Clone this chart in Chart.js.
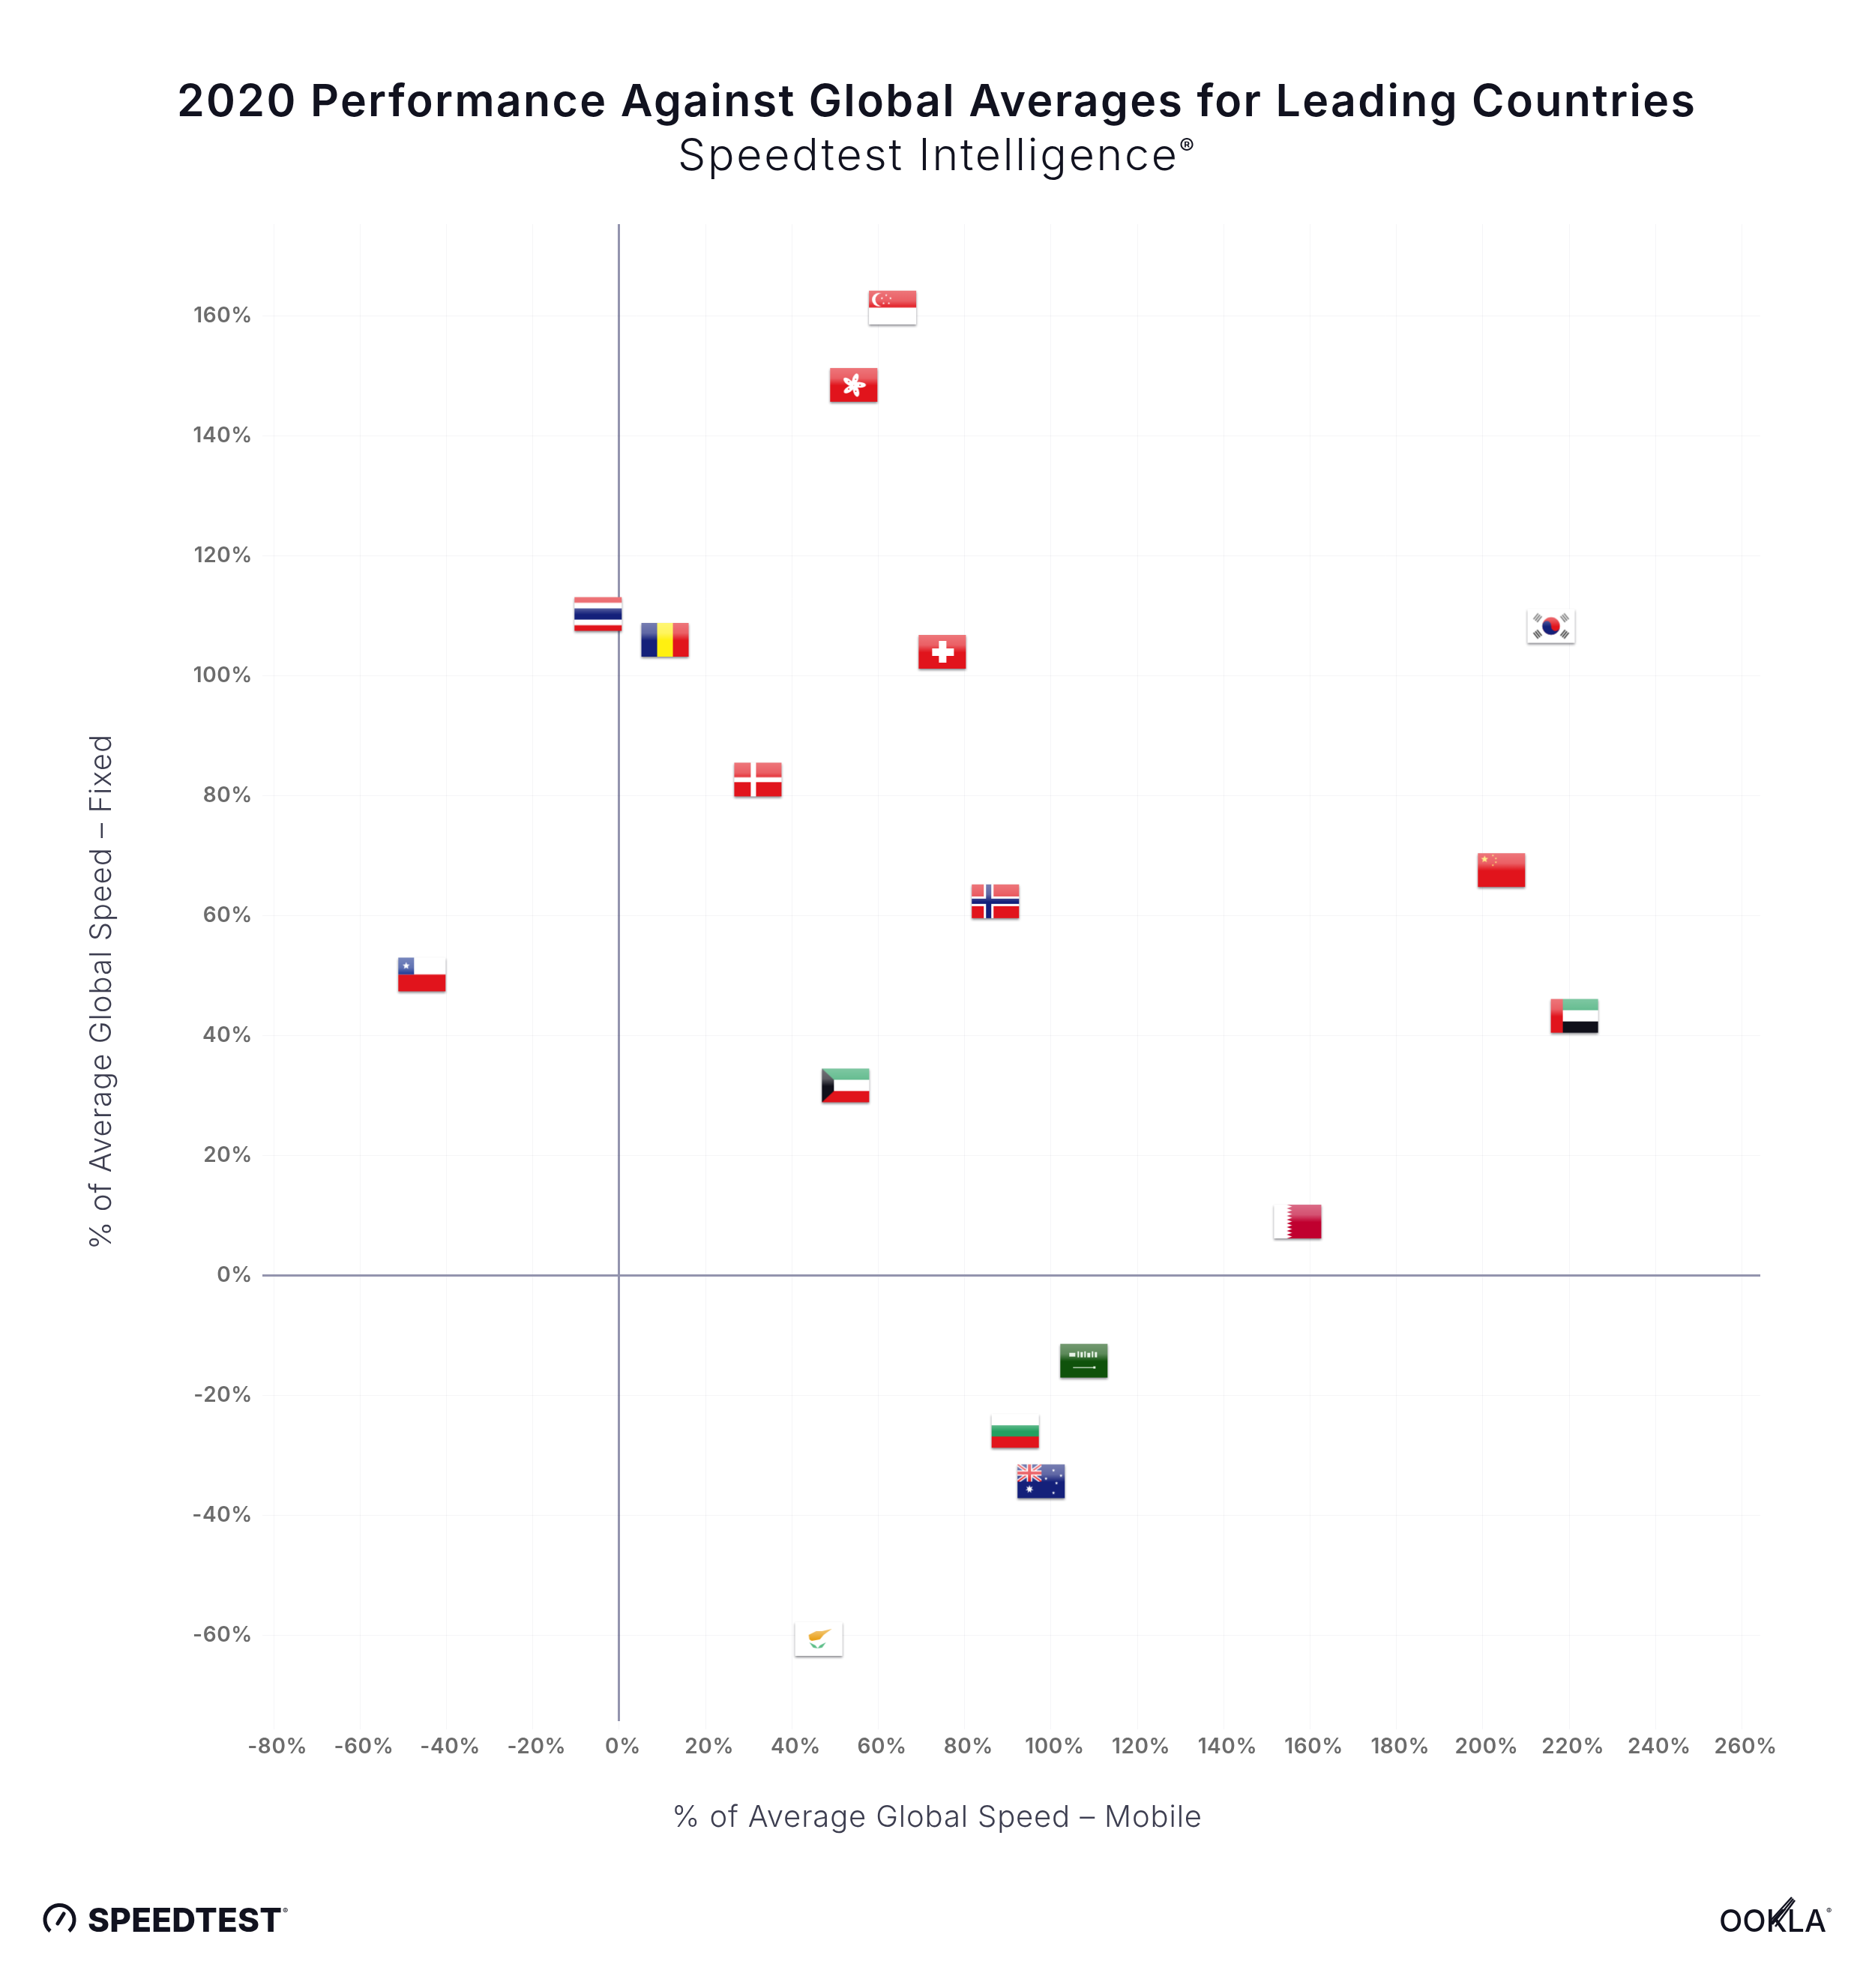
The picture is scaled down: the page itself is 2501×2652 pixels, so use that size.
<!DOCTYPE html>
<html>
<head>
<meta charset="utf-8">
<title>2020 Performance Against Global Averages</title>
<script src="https://cdn.jsdelivr.net/npm/chart.js@4"></script>
<style>
  html, body { margin: 0; padding: 0; background: #fff; }
  canvas { display: block; }
</style>
</head>
<body>
<canvas id="chart" width="2501" height="2652"></canvas>
<script>
// values
const countries = ["Singapore", "Hong Kong", "Thailand", "Romania", "Switzerland", "South Korea", "Denmark", "China", "Norway", "Chile", "UAE", "Kuwait", "Qatar", "Saudi Arabia", "Bulgaria", "Australia", "Cyprus"];
const mobileSpeed = [63.3, 54.3, -4.9, 10.6, 74.8, 215.8, 32.1, 204.3, 87.1, -45.7, 221.2, 52.4, 157.1, 107.6, 91.7, 97.7, 46.2];
const fixedSpeed = [161.4, 148.5, 110.3, 106.0, 104.0, 108.3, 82.7, 67.6, 62.4, 50.2, 43.3, 31.7, 9.0, -14.2, -25.9, -34.3, -60.6];
const xTicks = [-80, -60, -40, -20, 0, 20, 40, 60, 80, 100, 120, 140, 160, 180, 200, 220, 240, 260];
const yTicks = [-60, -40, -20, 0, 20, 40, 60, 80, 100, 120, 140, 160];

const titleText = "2020 Performance Against Global Averages for Leading Countries";
const subtitleText = "Speedtest Intelligence";
const xAxisTitle = "% of Average Global Speed – Mobile";
const yAxisTitle = "% of Average Global Speed – Fixed";

const FONT = "Inter, 'Noto Sans', sans-serif";
const RED = "#e1141c", NAVY = "#14207a", GREEN = "#22a060", BLACK = "#10101a";

// flag artwork, all drawn on a 63x45 box
const FW = 63, FH = 45, PAD = 5;

function bands(c, colors) {
  const h = FH / colors.length;
  colors.forEach((col, i) => { c.fillStyle = col; c.fillRect(0, i * h, FW, h + 0.5); });
}
function star(c, x, y, r, col, n) {
  n = n || 5;
  c.fillStyle = col;
  c.beginPath();
  for (let i = 0; i < n * 2; i++) {
    const a = -Math.PI / 2 + i * Math.PI / n;
    const rr = i % 2 ? r * 0.45 : r;
    c.lineTo(x + Math.cos(a) * rr, y + Math.sin(a) * rr);
  }
  c.closePath();
  c.fill();
}
function rect(c, col, x, y, w, h) { c.fillStyle = col; c.fillRect(x, y, w, h); }

const flagArt = {
  "Singapore": c => {
    bands(c, [RED, "#fff"]);
    c.fillStyle = "#fff";
    c.beginPath(); c.arc(13, 12, 9, 0, 7); c.fill();
    c.fillStyle = RED;
    c.beginPath(); c.arc(17, 12, 8.5, 0, 7); c.fill();
    for (let i = 0; i < 5; i++) {
      const a = -Math.PI / 2 + i * Math.PI * 2 / 5;
      star(c, 23 + Math.cos(a) * 6, 12 + Math.sin(a) * 6, 1.7, "#fff");
    }
  },
  "Hong Kong": c => {
    bands(c, [RED]);
    for (let i = 0; i < 5; i++) {
      c.save();
      c.translate(31.5, 23);
      c.rotate(i * Math.PI * 2 / 5);
      c.fillStyle = "#fff";
      c.beginPath();
      c.ellipse(2, -8, 3.8, 8, 0.35, 0, 7);
      c.fill();
      c.fillStyle = RED;
      c.beginPath();
      c.arc(2.5, -8, 0.9, 0, 7);
      c.fill();
      c.restore();
    }
  },
  "Thailand": c => {
    rect(c, RED, 0, 0, FW, FH);
    rect(c, "#fff", 0, 7.5, FW, 30);
    rect(c, NAVY, 0, 15, FW, 15);
  },
  "Romania": c => {
    rect(c, NAVY, 0, 0, 21, FH);
    rect(c, "#fff010", 21, 0, 21, FH);
    rect(c, RED, 42, 0, 21, FH);
  },
  "Switzerland": c => {
    bands(c, [RED]);
    rect(c, "#fff", 27, 8, 10, 29);
    rect(c, "#fff", 18, 18, 29, 10);
  },
  "South Korea": c => {
    bands(c, ["#fff"]);
    c.save();
    c.translate(31.5, 22.5);
    c.fillStyle = RED;
    c.beginPath(); c.arc(0, 0, 11.7, 0, 7); c.fill();
    c.fillStyle = NAVY;
    c.beginPath();
    c.arc(0, 0, 11.7, 0.15, Math.PI + 0.15);
    c.arc(-5.85, -0.9, 5.85, Math.PI + 0.15, 0.15, false);
    c.arc(5.85, 0.9, 5.85, Math.PI + 0.15, 0.15, true);
    c.fill();
    [[-18, -11, -0.9], [18, -11, 0.9], [-18, 11, 0.9], [18, 11, -0.9]].forEach(t => {
      c.save();
      c.translate(t[0], t[1]);
      c.rotate(t[2]);
      c.fillStyle = "#444";
      for (let k = -1; k <= 1; k++) c.fillRect(-5, k * 3 - 0.9, 10, 1.8);
      c.restore();
    });
    c.restore();
  },
  "Denmark": c => {
    bands(c, [RED]);
    rect(c, "#fff", 22, 0, 7, FH);
    rect(c, "#fff", 0, 19.5, FW, 6.5);
  },
  "China": c => {
    bands(c, [RED]);
    star(c, 9, 8, 5, "#ffe44a");
    [[20, 3], [24, 7], [24, 12], [20, 16]].forEach(p => star(c, p[0], p[1], 1.6, "#ffe44a"));
  },
  "Norway": c => {
    bands(c, [RED]);
    rect(c, "#fff", 16, 0, 13, FH);
    rect(c, "#fff", 0, 16, FW, 13);
    rect(c, NAVY, 19, 0, 7, FH);
    rect(c, NAVY, 0, 19, FW, 7);
  },
  "Chile": c => {
    rect(c, "#fff", 0, 0, FW, 22.5);
    rect(c, RED, 0, 22.5, FW, 22.5);
    rect(c, "#16308f", 0, 0, 21, 22.5);
    star(c, 10.5, 11, 5, "#fff");
  },
  "UAE": c => {
    bands(c, [GREEN, "#fff", BLACK]);
    rect(c, RED, 0, 0, 16, FH);
  },
  "Kuwait": c => {
    bands(c, [GREEN, "#fff", RED]);
    c.fillStyle = BLACK;
    c.beginPath();
    c.moveTo(0, 0); c.lineTo(16, 15); c.lineTo(16, 30); c.lineTo(0, 45);
    c.closePath(); c.fill();
  },
  "Qatar": c => {
    bands(c, ["#c0002f"]);
    c.fillStyle = "#fff";
    c.beginPath();
    c.moveTo(0, 0); c.lineTo(17, 0);
    const n = 9, h = FH / n;
    for (let i = 0; i < n; i++) {
      c.lineTo(24, i * h + h / 2);
      c.lineTo(17, (i + 1) * h);
    }
    c.lineTo(0, FH);
    c.closePath(); c.fill();
  },
  "Saudi Arabia": c => {
    bands(c, ["#0f520b"]);
    c.fillStyle = "#dfeede";
    [[12, 12, 8, 5], [23, 10, 2, 8], [27, 11, 3, 7], [32, 10, 2, 8], [36, 12, 4, 6], [42, 10, 2, 8], [46, 11, 3, 7]].forEach(r => c.fillRect(r[0], r[1], r[2], r[3]));
    c.fillRect(17, 31, 28, 1.2);
    c.fillRect(44, 30, 3, 3);
  },
  "Bulgaria": c => bands(c, ["#fff", GREEN, RED]),
  "Australia": c => {
    bands(c, [NAVY]);
    c.save();
    c.beginPath(); c.rect(0, 0, 32, 23); c.clip();
    c.strokeStyle = "#fff"; c.lineWidth = 5;
    c.beginPath(); c.moveTo(0, 0); c.lineTo(32, 23); c.moveTo(32, 0); c.lineTo(0, 23); c.stroke();
    c.strokeStyle = RED; c.lineWidth = 2;
    c.beginPath(); c.moveTo(0, 0); c.lineTo(32, 23); c.moveTo(32, 0); c.lineTo(0, 23); c.stroke();
    rect(c, "#fff", 12.5, 0, 7, 23);
    rect(c, "#fff", 0, 8, 32, 7);
    rect(c, RED, 14, 0, 4, 23);
    rect(c, RED, 0, 9.5, 32, 4);
    c.restore();
    star(c, 16, 33, 5.5, "#fff", 7);
    [[48, 8], [58, 15], [38, 19], [52, 25], [48, 38]].forEach(p => star(c, p[0], p[1], 2.2, "#fff", 5));
  },
  "Cyprus": c => {
    bands(c, ["#fff"]);
    c.fillStyle = "#eaa015";
    c.beginPath();
    c.moveTo(18, 17); c.lineTo(28, 12); c.lineTo(36, 12); c.lineTo(49, 9);
    c.lineTo(38, 17); c.lineTo(33, 23); c.lineTo(22, 25); c.lineTo(19, 23);
    c.closePath(); c.fill();
    c.fillStyle = "#5fbf8a";
    c.beginPath();
    c.moveTo(19, 27); c.lineTo(27, 31); c.lineTo(30, 35); c.lineTo(24, 34);
    c.closePath(); c.fill();
    c.beginPath();
    c.moveTo(41, 27); c.lineTo(33, 31); c.lineTo(30, 35); c.lineTo(36, 34);
    c.closePath(); c.fill();
  }
};

// every flag gets the same drop shadow and glossy top half
function makeFlag(name) {
  const cv = document.createElement("canvas");
  cv.width = FW + PAD * 2;
  cv.height = FH + PAD * 2;
  const c = cv.getContext("2d");
  c.translate(PAD, PAD);
  c.save();
  c.shadowColor = "rgba(40,40,50,0.55)";
  c.shadowBlur = 3;
  c.shadowOffsetY = 2;
  c.fillStyle = "#fff";
  c.fillRect(0, 0, FW, FH);
  c.restore();
  c.save();
  c.beginPath(); c.rect(0, 0, FW, FH); c.clip();
  flagArt[name](c);
  const g = c.createLinearGradient(0, 0, 0, FH);
  g.addColorStop(0, "rgba(255,255,255,0.42)");
  g.addColorStop(0.3, "rgba(255,255,255,0.32)");
  g.addColorStop(0.52, "rgba(255,255,255,0)");
  c.fillStyle = g;
  c.fillRect(0, 0, FW, FH);
  c.restore();
  return cv;
}

const flagImages = countries.map(makeFlag);

const AXIS = "#9394ae", GRID = "rgba(30,30,70,0.045)";

// spreads or tightens a line so it fills the measured width
function fitText(c, text, x, y, width) {
  c.letterSpacing = "0px";
  const w = c.measureText(text).width;
  c.letterSpacing = ((width - w) / (text.length - 1)) + "px";
  c.fillText(text, x, y);
  c.letterSpacing = "0px";
}

// headings and axis titles sit off the plot centre, logos are page furniture
const pageText = {
  id: "pageText",
  beforeDraw(chart) {
    chart.ctx.letterSpacing = "0.6px";
  },
  afterDraw(chart) {
    const c = chart.ctx;
    c.save();
    c.textAlign = "left";
    c.textBaseline = "alphabetic";

    c.fillStyle = "#11121f";
    c.font = "600 59px " + FONT;
    fitText(c, titleText, 236, 155, 2025);
    c.font = "300 59px " + FONT;
    fitText(c, subtitleText, 904, 227, 666);
    c.font = "400 30px " + FONT;
    c.fillText("®", 1573, 206);

    c.fillStyle = "#3d3e50";
    c.font = "300 40px " + FONT;
    fitText(c, xAxisTitle, 896, 2437, 707);
    c.save();
    c.translate(148, 1667);
    c.rotate(-Math.PI / 2);
    fitText(c, yAxisTitle, 0, 0, 687);
    c.restore();

    c.fillStyle = c.strokeStyle = "#11121f";
    c.lineWidth = 5;
    c.beginPath();
    c.arc(79.5, 2561, 19.5, Math.PI * 0.72, Math.PI * 0.28);
    c.stroke();
    c.lineCap = "round";
    c.beginPath();
    c.moveTo(77, 2566);
    c.lineTo(85, 2553);
    c.stroke();
    c.font = "800 44px " + FONT;
    fitText(c, "SPEEDTEST", 117, 2577, 259);
    c.font = "400 11px " + FONT;
    c.fillText("®", 377, 2553);
    c.font = "500 41px " + FONT;
    fitText(c, "OOKLA", 2293, 2577, 143);
    c.font = "400 11px " + FONT;
    c.fillText("®", 2436, 2553);
    c.lineWidth = 2.5;
    c.lineCap = "butt";
    [0, 1, 2].forEach(d => {
      c.beginPath();
      c.moveTo(2360 + d * 4, 2564 + d * 3);
      c.lineTo(2390 + d * 2, 2531 + d * 2);
      c.stroke();
    });
    c.restore();
  }
};

new Chart(document.getElementById("chart"), {
  type: "scatter",
  data: {
    labels: countries,
    datasets: [{
      label: "Countries",
      data: countries.map((n, i) => ({ x: mobileSpeed[i], y: fixedSpeed[i] })),
      pointStyle: flagImages,
      pointRadius: 30,
      pointHoverRadius: 30
    }]
  },
  options: {
    responsive: false,
    animation: false,
    layout: { padding: { left: 0, right: 153, top: 299, bottom: 0 } },
    plugins: {
      legend: { display: false },
      tooltip: { enabled: false }
    },
    scales: {
      x: {
        type: "linear",
        min: -82.64,
        max: 264.24,
        afterBuildTicks: s => { s.ticks = xTicks.map(v => ({ value: v })); },
        afterFit: s => { s.height = 356; },
        border: { display: false },
        grid: {
          color: ctx => ctx.tick && ctx.tick.value === 0 ? AXIS : GRID,
          lineWidth: ctx => ctx.tick && ctx.tick.value === 0 ? 3 : 1,
          tickColor: GRID,
          tickWidth: 1,
          tickLength: 11
        },
        ticks: {
          autoSkip: false,
          maxRotation: 0,
          labelOffset: 5,
          padding: 7,
          color: "#6c6c6c",
          font: { family: FONT, size: 28, weight: "600" },
          callback: v => v + "%"
        }
      },
      y: {
        type: "linear",
        min: -74.3,
        max: 175.3,
        afterBuildTicks: s => { s.ticks = yTicks.map(v => ({ value: v })); },
        afterFit: s => { s.width = 350; },
        border: { display: false },
        grid: {
          color: ctx => ctx.tick && ctx.tick.value === 0 ? AXIS : GRID,
          lineWidth: ctx => ctx.tick && ctx.tick.value === 0 ? 3 : 1,
          drawTicks: false
        },
        ticks: {
          autoSkip: false,
          padding: 13,
          labelOffset: 0,
          color: "#6c6c6c",
          font: { family: FONT, size: 28, weight: "600" },
          callback: v => v + "%"
        }
      }
    }
  },
  plugins: [pageText]
});
</script>
</body>
</html>
